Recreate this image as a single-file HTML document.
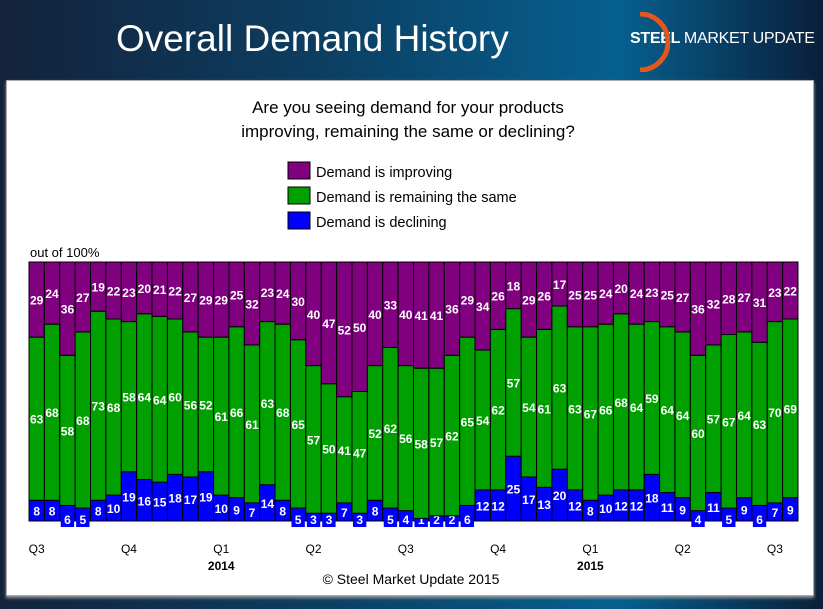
<!DOCTYPE html>
<html><head><meta charset="utf-8"><style>
body{margin:0;width:823px;height:609px;overflow:hidden;background:linear-gradient(90deg,#13233b 0%,#0c3f63 40%,#06608f 75%,#0a1f3a 100%);font-family:"Liberation Sans",sans-serif;position:relative}
#title{position:absolute;left:116px;top:18px;color:#fff;font-size:37px;}
#logo{position:absolute;left:630px;top:30px;color:#fff;font-size:16px;font-weight:bold;letter-spacing:-0.3px}
#panel{position:absolute;left:6px;top:80px;width:806px;height:514px;background:#fff;border:1px solid #aaa;box-shadow:0 2px 3px #999}
</style></head><body>
<div id="title">Overall Demand History</div>
<div id="logo">STEEL <span style="font-weight:normal">MARKET UPDATE</span><svg style="position:absolute;left:-20px;top:-18px" width="60" height="60"><path d="M30 2 A28 28 0 0 1 30 58" stroke="#e4571c" stroke-width="5" fill="none"/></svg></div>
<div id="panel"></div>
<svg id="chart" width="823" height="609" style="position:absolute;left:0;top:0"></svg>
<script>
const improving=[29,24,36,27,19,22,23,20,21,22,27,29,29,25,32,23,24,30,40,47,52,50,40,33,40,41,41,36,29,34,26,18,29,26,17,25,25,24,20,24,23,25,27,36,32,28,27,31,23,22];
const same=[63,68,58,68,73,68,58,64,64,60,56,52,61,66,61,63,68,65,57,50,41,47,52,62,56,58,57,62,65,54,62,57,54,61,63,63,67,66,68,64,59,64,64,60,57,67,64,63,70,69];
const declining=[8,8,6,5,8,10,19,16,15,18,17,19,10,9,7,14,8,5,3,3,7,3,8,5,4,1,2,2,6,12,12,25,17,13,20,12,8,10,12,12,18,11,9,4,11,5,9,6,7,9];
const quarterLabels=["Q3","Q4","Q1","Q2","Q3","Q4","Q1","Q2","Q3"];
const yearLabels=[{t:"2014",q:2},{t:"2015",q:6}];
const NS="http://www.w3.org/2000/svg",svg=document.getElementById('chart');
const X0=29,X1=798,Y0=521,Y1=262,n=improving.length,bw=(X1-X0)/n;
const x=i=>X0+i*bw, y=v=>Y0-(v/100)*(Y0-Y1);
function mk(t,a,p){const e=document.createElementNS(NS,t);for(const k in a)e.setAttribute(k,a[k]);(p||svg).appendChild(e);return e;}
function txt(s,a){const e=mk('text',a);e.textContent=s;return e;}
txt("Are you seeing demand for your products",{x:408,y:113,"text-anchor":"middle","font-size":"17","fill":"#000"});
txt("improving, remaining the same or declining?",{x:408,y:137,"text-anchor":"middle","font-size":"17","fill":"#000"});
const leg=[["#800080","Demand is improving"],["#00a000","Demand is remaining the same"],["#0000ff","Demand is declining"]];
leg.forEach((l,i)=>{const g=mk('g',{});


mk('rect',{x:288,y:162+i*25,width:22,height:17,fill:l[0],stroke:"#000"},g);
const t=mk('text',{x:316,y:177+i*25,"font-size":"14.5"},g);t.textContent=l[1];});
txt("out of 100%",{x:30,y:257,"font-size":"13"});
const series=[[declining,"#0000ff",0],[same,"#00a000",1],[improving,"#800080",2]];
for(let i=0;i<n;i++){
 let base=0;
 series.forEach(([arr,c,k])=>{const v=arr[i];
  const r=mk('rect',{x:x(i),y:y(base+v),width:bw,height:y(base)-y(base+v),fill:c,stroke:"#000","stroke-width":"1"});
  
  
  let ly=(y(base)+y(base+v))/2+5;
  if(k==0&&v<7){ly=Y0+3;mk('rect',{x:x(i)+1,y:Y0-10,width:bw-2,height:16,fill:"#0000ff"});}
  const t=txt(v,{x:x(i)+bw/2,y:ly,"text-anchor":"middle","font-size":"12","font-weight":"bold",fill:"#fff"});
  
  base+=v;});
}
quarterLabels.forEach((q,j)=>{const t=txt(q,{x:x(j*6)+bw/2,y:553,"text-anchor":"middle","font-size":"12"});
});
yearLabels.forEach(o=>{const t=txt(o.t,{x:x(o.q*6)+bw/2,y:570,"text-anchor":"middle","font-size":"12","font-weight":"bold"});
});
txt("© Steel Market Update 2015",{x:411,y:584,"text-anchor":"middle","font-size":"14"});
</script>
</body></html>
